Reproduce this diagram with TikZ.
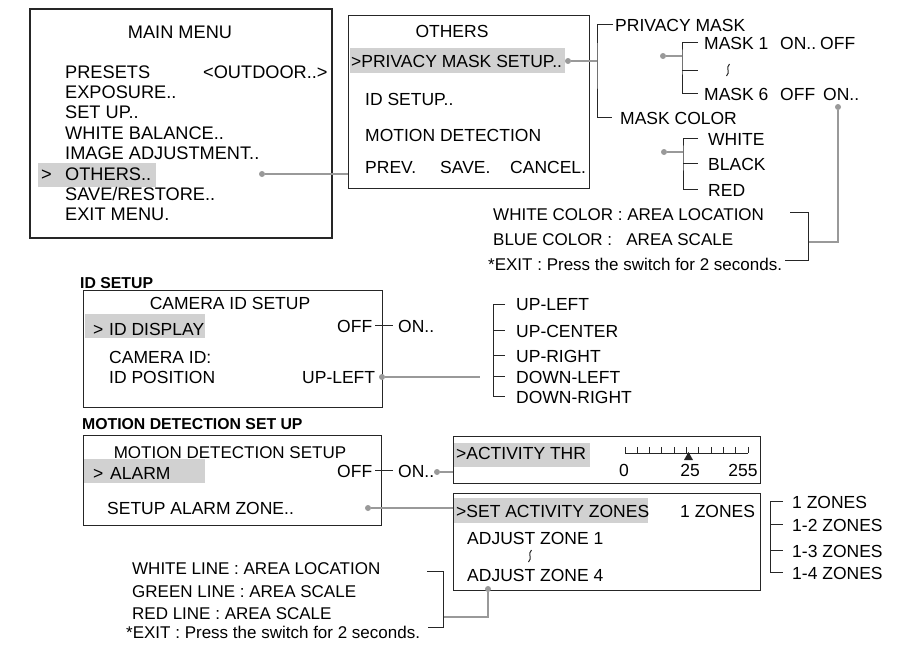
\documentclass[tikz,border=0pt]{standalone}
\usepackage{fontspec}
\setmainfont{Liberation Sans}
\usetikzlibrary{positioning}

\begin{document}
\begin{tikzpicture}[x=1pt, y=-1pt]
  \tikzset{
    menubox/.style={draw=black!85, line width=1.3pt, inner sep=0pt, anchor=north west},
    hilite/.style={fill=black!18},
    txt/.style={anchor=base west, inner sep=0pt, font=\fontsize{17.5}{20}\selectfont},
    bigtxt/.style={txt, font=\fontsize{18.2}{20}\selectfont},
    note/.style={txt, font=\fontsize{17}{20}\selectfont},
    title/.style={txt, anchor=base},
    heading/.style={anchor=base west, inner sep=0pt, font=\fontsize{15.8}{18}\selectfont\bfseries},
    link/.style={draw=black!40, line width=1.2pt},
    dot/.style={circle, fill=black!40, inner sep=0pt, minimum size=6pt},
    tree/.style={draw=black!85, line width=1pt},
    squig/.style={draw=black!85, line width=1pt}
  }
  \useasboundingbox (0,0) rectangle (903,645);

  % main menu
  \fill[hilite] (38,163) rectangle (156,187);
  \node[menubox, line width=1.6pt, minimum width=302pt, minimum height=229pt] (mainbox) at (29,8) {};
  \node[title, font=\fontsize{18.2}{20}\selectfont] (maintitle) at (180,38) {MAIN MENU};
  \foreach \txt [count=\i] in {PRESETS, EXPOSURE.., SET UP.., WHITE BALANCE.., IMAGE ADJUSTMENT.., OTHERS.., SAVE/RESTORE.., EXIT MENU.}
    \node[bigtxt] (main\i) at (65, 57.6+20.4*\i) {\txt};
  \node[bigtxt] (outdoor) at (203,78) {<OUTDOOR..>};
  \node[bigtxt] (mainsel) at (41,180) {>};
  \node[dot] (maindot) at (262,174) {};

  % others menu
  \fill[hilite] (350,48) rectangle (565,73);
  \node[menubox, minimum width=241pt, minimum height=173pt] (othersbox) at (348,15) {};
  \draw[link] (maindot) -- (maindot -| othersbox.west);
  \node[title] (otherstitle) at (452,37) {OTHERS};
  \node[txt] (pmsetup) at (351,67) {>PRIVACY MASK SETUP..};
  \node[txt] (idsetup) at (365,105) {ID SETUP..};
  \node[txt] (motion) at (365,141) {MOTION DETECTION};
  \node[txt] (prev) at (365,173) {PREV.};
  \node[txt] (save) at (440,173) {SAVE.};
  \node[txt] (cancel) at (510,173) {CANCEL.};
  \node[dot] (pmdot) at (568,61) {};

  % privacy mask tree
  \node[txt] (pmask) at (615,31) {PRIVACY MASK};
  \node[txt] (mcolor) at (620,124) {MASK COLOR};
  \coordinate (pmspine) at (597,61);
  \draw[link] (pmdot) -- (pmspine);
  \draw[tree] ([xshift=-2pt]pmask.west) -| (pmspine) |- ([xshift=-8pt]mcolor.west);

  \node[dot] (maskdot) at (663,56) {};
  \node[txt] (mask1) at (704,49) {MASK 1};
  \node[txt] (mask1on) at (780,49) {ON..};
  \node[txt] (mask1off) at (820,49) {OFF};
  \coordinate (masksq) at (728,70);
  \draw[squig] ([shift={(1.5,-6)}]masksq) .. controls ([shift={(-3,-2)}]masksq) and ([shift={(3,2)}]masksq) .. ([shift={(-1.5,6)}]masksq);
  \node[txt] (mask6) at (704,100) {MASK 6};
  \node[txt] (mask6off) at (780,100) {OFF};
  \node[txt] (mask6on) at (823,100) {ON..};
  \coordinate (maskspine) at (682,56);
  \draw[link] (maskdot) -- (maskspine);
  \draw[tree] ([xshift=-6pt]mask1.west) -| (maskspine) |- ([xshift=-6pt]mask6.west);
  \draw[tree] (maskspine |- masksq) -- ++(16,0);

  \node[dot] (colordot) at (664,152) {};
  \node[txt] (white) at (708,145) {WHITE};
  \node[txt] (black) at (708,170) {BLACK};
  \node[txt] (red) at (708,196) {RED};
  \coordinate (colorspine) at (683,152);
  \draw[link] (colordot) -- (colorspine);
  \draw[tree] ([xshift=-10pt]white.west) -| (colorspine) |- ([xshift=-10pt]red.west);
  \draw[tree] (colorspine |- black.west) -- ([xshift=-10pt]black.west);

  % mask notes
  \node[note] (whitecol) at (493,220) {WHITE COLOR : AREA LOCATION};
  \node[note] (bluecol) at (493,245) {BLUE COLOR :\ \ \ AREA SCALE};
  \node[note] (exitcol) at (488,270) {*EXIT : Press the switch for 2 seconds.};
  \node[dot] (ondot) at (838,107) {};
  \coordinate (cnote) at (808,242);
  \draw[link] (ondot) |- (cnote);
  \draw[tree] (790,212) -| (808,260) -- (785,260);

  % id setup
  \node[heading] (idlabel) at (80,288) {ID SETUP};
  \fill[hilite] (85,314) rectangle (205,338);
  \node[menubox, minimum width=299pt, minimum height=117pt] (idbox) at (83,290) {};
  \node[title] (idtitle) at (230,309) {CAMERA ID SETUP};
  \node[txt] (idsel) at (93,335) {>};
  \node[txt] (iddisp) at (109,335) {ID DISPLAY};
  \node[txt] (idoff) at (337,332) {OFF};
  \node[txt] (idon) at (398,332) {ON..};
  \draw[tree] ([xshift=3pt]idoff.east) -- ([xshift=-5pt]idon.west);
  \node[txt] (camid) at (109,363) {CAMERA ID:};
  \node[txt] (idpos) at (109,383) {ID POSITION};
  \node[txt] (upleft) at (302,383) {UP-LEFT};
  \node[dot] (posdot) at (382,377) {};
  \coordinate (posend) at (480,377);
  \draw[link] (posdot) -- (posend);

  \foreach \txt/\yb [count=\i] in {UP-LEFT/310, UP-CENTER/337, UP-RIGHT/362, DOWN-LEFT/383, DOWN-RIGHT/403}
    \node[txt] (pos\i) at (516,\yb) {\txt};
  \draw[tree] ([xshift=-11pt]pos1.west) -| ([xshift=-23pt]pos5.west) -- ([xshift=-11pt]pos5.west);
  \foreach \i in {2,3,4}
    \draw[tree] ([xshift=-23pt]pos\i.west) -- ([xshift=-11pt]pos\i.west);

  % motion detection
  \node[heading] (mdlabel) at (82,429) {MOTION DETECTION SET UP};
  \fill[hilite] (84,459) rectangle (205,483);
  \node[menubox, minimum width=298pt, minimum height=90pt] (mdbox) at (83,435) {};
  \node[title, font=\fontsize{17}{20}\selectfont] (mdtitle) at (230,458) {MOTION DETECTION SETUP};
  \node[txt] (mdsel) at (93,479) {>};
  \node[txt] (alarm) at (110,479) {ALARM};
  \node[txt] (alarmoff) at (337,477) {OFF};
  \node[txt] (alarmon) at (398,477) {ON..};
  \draw[tree] ([xshift=3pt]alarmoff.east) -- ([xshift=-5pt]alarmon.west);
  \node[dot] (alarmdot) at (437,472) {};
  \node[txt] (zonesetup) at (107,514) {SETUP ALARM ZONE..};
  \node[dot] (zonedot) at (368,508) {};

  % activity threshold
  \fill[hilite] (453,443) rectangle (590,467);
  \node[menubox, minimum width=307pt, minimum height=47pt] (actbox) at (453,436) {};
  \draw[link] (alarmdot) -- (alarmdot -| actbox.west);
  \node[txt] (actthr) at (456,459) {>ACTIVITY THR};
  \draw[tree] (625,453) -- (748,453);
  \foreach \k in {0,...,10}
    \draw[tree] (625+12.3*\k,447) -- (625+12.3*\k,453);
  \fill[black!85] (684,460) -- (693,460) -- (688.5,452) -- cycle;
  \node[title] (thr0) at (624,476) {0};
  \node[title] (thr25) at (690,476) {25};
  \node[title] (thr255) at (743,476) {255};

  % activity zones
  \fill[hilite] (453,498) rectangle (648,523);
  \node[menubox, minimum width=307pt, minimum height=97pt] (zonebox) at (453,493) {};
  \draw[link] (zonedot) -- (zonedot -| zonebox.west);
  \node[txt] (setzones) at (456,517) {>SET ACTIVITY ZONES};
  \node[txt] (onezone) at (680,517) {1 ZONES};
  \node[txt] (adj1) at (467,544) {ADJUST ZONE 1};
  \coordinate (adjsq) at (530,556);
  \draw[squig] ([shift={(1.5,-6)}]adjsq) .. controls ([shift={(-3,-2)}]adjsq) and ([shift={(3,2)}]adjsq) .. ([shift={(-1.5,6)}]adjsq);
  \node[txt] (adj4) at (467,581) {ADJUST ZONE 4};
  \node[dot] (adjdot) at (488,589) {};

  \foreach \txt/\yb [count=\i] in {1 ZONES/508, 1-2 ZONES/531, 1-3 ZONES/557, 1-4 ZONES/579}
    \node[txt] (zn\i) at (792,\yb) {\txt};
  \draw[tree] ([xshift=-9pt]zn1.west) -| ([xshift=-22pt]zn4.west) -- ([xshift=-9pt]zn4.west);
  \foreach \i in {2,3}
    \draw[tree] ([xshift=-22pt]zn\i.west) -- ([xshift=-9pt]zn\i.west);

  % line notes
  \node[note] (wline) at (132,574) {WHITE LINE : AREA LOCATION};
  \node[note] (gline) at (132,597) {GREEN LINE : AREA SCALE};
  \node[note] (rline) at (132,619) {RED LINE : AREA SCALE};
  \node[note] (exitline) at (126,638) {*EXIT : Press the switch for 2 seconds.};
  \coordinate (lnote) at (443,617);
  \draw[link] (adjdot) |- (lnote);
  \draw[tree] (427,571) -| (443,627) -- (428,627);
\end{tikzpicture}
\end{document}
